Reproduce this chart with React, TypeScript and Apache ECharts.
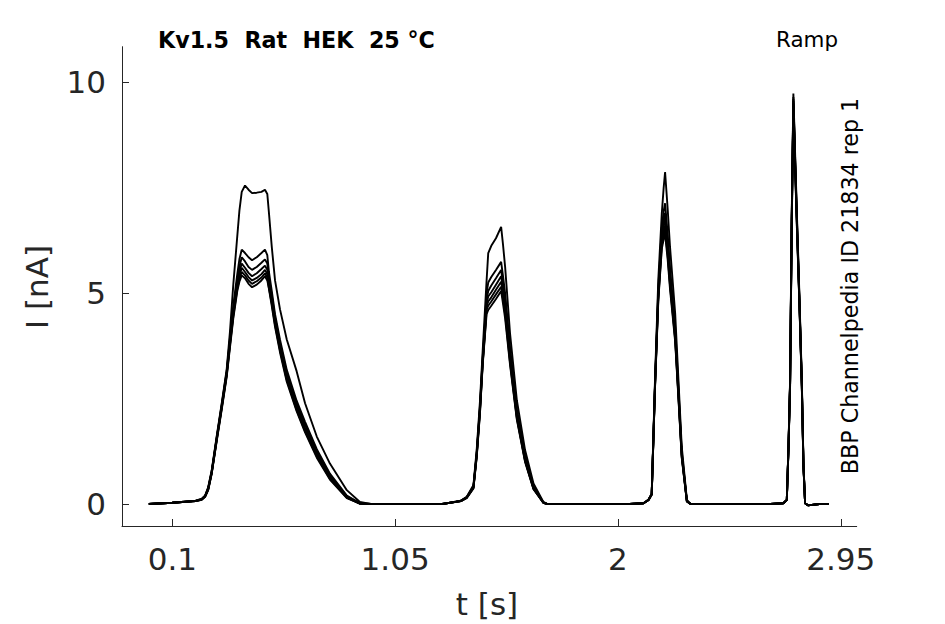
import React, { useEffect, useRef } from "react";
import * as echarts from "echarts";

// time samples (s), shared by all sweeps
const T = [
  0, 0.1, 0.2, 0.225, 0.24, 0.253, 0.268, 0.289, 0.311, 0.332, 0.346, 0.36, 0.377, 0.386, 0.396, 0.41, 0.425, 0.44, 0.46, 0.48, 0.495, 0.505, 0.512, 0.524, 0.538, 0.559, 0.588, 0.63, 0.666, 0.716, 0.772, 0.844, 0.9, 0.95,
  1.25, 1.33, 1.355, 1.384, 1.398, 1.412, 1.423, 1.433, 1.44, 1.447, 1.46, 1.48, 1.502, 1.51, 1.519, 1.54, 1.569, 1.604, 1.64, 1.682, 1.7, 1.75,
  2.05, 2.109, 2.13, 2.144, 2.158, 2.172, 2.187, 2.195, 2.201, 2.212, 2.222, 2.244, 2.258, 2.272, 2.294, 2.31, 2.36,
  2.65, 2.705, 2.72, 2.727, 2.734, 2.741, 2.748, 2.756, 2.763, 2.774, 2.784, 2.791, 2.798, 2.81, 2.86, 2.9,
];

// current (nA) of each sweep
const sweepA = [
  0, 0.03, 0.08, 0.12, 0.2, 0.4, 0.8, 1.6, 2.4, 3.2, 4.1, 5.2, 6.35, 6.95, 7.4, 7.55, 7.45, 7.37, 7.38, 7.4, 7.45, 7.35, 6.9, 6.1, 5.3, 4.62, 3.9, 3.15, 2.39, 1.6, 0.96, 0.33, 0.05, 0,
  0, 0.08, 0.17, 0.45, 1.3, 2.46, 3.6, 4.6, 5.3, 5.95, 6.12, 6.3, 6.57, 6.15, 5.62, 4.04, 2.46, 1.28, 0.49, 0.05, 0, 0,
  0, 0.02, 0.1, 0.25, 2.94, 5.31, 6.89, 7.5, 7.87, 7.0, 6.1, 4.52, 2.94, 1.36, 0.1, 0, 0,
  0, 0.02, 0.1, 1.36, 2.94, 6.89, 9.73, 8.2, 6.89, 4.9, 2.94, 0.96, 0.02, -0.03, 0, 0,
];
const sweepB = [
  0, 0.03, 0.08, 0.12, 0.2, 0.38, 0.78, 1.57, 2.37, 3.15, 3.95, 4.7, 5.45, 5.8, 6.03, 5.95, 5.85, 5.78, 5.85, 5.95, 6.03, 5.9, 5.5, 5.05, 4.5, 3.9, 3.18, 2.45, 1.95, 1.3, 0.72, 0.2, 0.02, 0,
  0, 0.08, 0.16, 0.42, 1.22, 2.35, 3.45, 4.3, 5.0, 5.25, 5.38, 5.55, 5.74, 5.4, 5.0, 3.7, 2.25, 1.15, 0.42, 0.04, 0, 0,
  0, 0.02, 0.1, 0.24, 2.85, 5.1, 6.55, 6.95, 7.13, 6.4, 5.6, 4.2, 2.75, 1.25, 0.08, 0, 0,
  0, 0.02, 0.1, 1.33, 2.9, 6.8, 9.65, 8.1, 6.8, 4.82, 2.88, 0.93, 0.02, -0.03, 0, 0,
];
const sweepC = [
  0, 0.03, 0.08, 0.11, 0.19, 0.37, 0.76, 1.55, 2.34, 3.12, 3.9, 4.62, 5.32, 5.62, 5.85, 5.75, 5.62, 5.55, 5.62, 5.72, 5.8, 5.7, 5.35, 4.95, 4.42, 3.82, 3.1, 2.38, 1.88, 1.25, 0.68, 0.18, 0.02, 0,
  0, 0.07, 0.16, 0.41, 1.2, 2.3, 3.4, 4.2, 4.85, 5.05, 5.18, 5.35, 5.55, 5.22, 4.85, 3.6, 2.18, 1.1, 0.4, 0.04, 0, 0,
  0, 0.02, 0.1, 0.24, 2.82, 5.0, 6.4, 6.75, 6.9, 6.25, 5.45, 4.1, 2.68, 1.2, 0.07, 0, 0,
  0, 0.02, 0.1, 1.32, 2.88, 6.75, 9.6, 8.05, 6.75, 4.78, 2.85, 0.92, 0.02, -0.03, 0, 0,
];
const sweepD = [
  0, 0.03, 0.07, 0.11, 0.19, 0.36, 0.75, 1.53, 2.32, 3.1, 3.85, 4.55, 5.22, 5.5, 5.7, 5.6, 5.48, 5.4, 5.47, 5.57, 5.65, 5.55, 5.25, 4.87, 4.35, 3.75, 3.03, 2.32, 1.82, 1.2, 0.65, 0.17, 0.01, 0,
  0, 0.07, 0.15, 0.4, 1.18, 2.27, 3.35, 4.15, 4.75, 4.92, 5.02, 5.2, 5.4, 5.1, 4.75, 3.5, 2.12, 1.07, 0.38, 0.03, 0, 0,
  0, 0.02, 0.1, 0.23, 2.8, 4.95, 6.3, 6.6, 6.75, 6.12, 5.35, 4.02, 2.62, 1.17, 0.07, 0, 0,
  0, 0.02, 0.1, 1.3, 2.86, 6.7, 9.55, 8.0, 6.7, 4.75, 2.83, 0.9, 0.02, -0.03, 0, 0,
];
const sweepE = [
  0, 0.03, 0.07, 0.11, 0.18, 0.35, 0.74, 1.52, 2.3, 3.08, 3.8, 4.5, 5.15, 5.4, 5.6, 5.5, 5.38, 5.3, 5.36, 5.45, 5.55, 5.45, 5.18, 4.8, 4.3, 3.7, 2.98, 2.27, 1.77, 1.16, 0.62, 0.16, 0.01, 0,
  0, 0.07, 0.15, 0.39, 1.16, 2.24, 3.32, 4.1, 4.68, 4.8, 4.9, 5.08, 5.27, 4.98, 4.62, 3.42, 2.07, 1.04, 0.37, 0.03, 0, 0,
  0, 0.02, 0.09, 0.23, 2.78, 4.9, 6.2, 6.47, 6.6, 6.0, 5.25, 3.95, 2.57, 1.14, 0.06, 0, 0,
  0, 0.02, 0.1, 1.29, 2.84, 6.65, 9.5, 7.95, 6.65, 4.72, 2.81, 0.89, 0.02, -0.03, 0, 0,
];
const sweepF = [
  0, 0.03, 0.07, 0.1, 0.18, 0.34, 0.73, 1.5, 2.28, 3.05, 3.77, 4.45, 5.1, 5.33, 5.5, 5.42, 5.3, 5.22, 5.28, 5.37, 5.47, 5.37, 5.12, 4.75, 4.25, 3.65, 2.94, 2.23, 1.73, 1.13, 0.6, 0.15, 0.01, 0,
  0, 0.07, 0.15, 0.38, 1.14, 2.2, 3.3, 4.05, 4.6, 4.7, 4.8, 4.97, 5.15, 4.86, 4.5, 3.35, 2.03, 1.02, 0.36, 0.03, 0, 0,
  0, 0.02, 0.09, 0.22, 2.76, 4.85, 6.12, 6.37, 6.5, 5.9, 5.18, 3.9, 2.53, 1.12, 0.06, 0, 0,
  0, 0.02, 0.1, 1.28, 2.82, 6.6, 9.45, 7.9, 6.6, 4.7, 2.79, 0.88, 0.02, -0.03, 0, 0,
];
const sweepG = [
  0, 0.03, 0.07, 0.1, 0.17, 0.33, 0.72, 1.48, 2.25, 3.02, 3.72, 4.4, 5.05, 5.27, 5.42, 5.35, 5.22, 5.14, 5.2, 5.3, 5.4, 5.3, 5.1, 4.7, 4.2, 3.6, 2.9, 2.2, 1.7, 1.1, 0.58, 0.14, 0.01, 0,
  0, 0.07, 0.14, 0.37, 1.12, 2.17, 3.27, 4.0, 4.5, 4.6, 4.7, 4.86, 5.05, 4.75, 4.4, 3.3, 2.0, 1.0, 0.35, 0.03, 0, 0,
  0, 0.02, 0.09, 0.22, 2.74, 4.8, 6.05, 6.28, 6.4, 5.8, 5.1, 3.85, 2.5, 1.1, 0.06, 0, 0,
  0, 0.02, 0.1, 1.27, 2.8, 6.55, 9.4, 7.85, 6.55, 4.68, 2.77, 0.87, 0.02, -0.03, 0, 0,
];

const SWEEPS = [sweepA, sweepB, sweepC, sweepD, sweepE, sweepF, sweepG];

const X_TICKS = [0.1, 1.05, 2, 2.95];
const Y_TICKS = [0, 5, 10];

const TITLE = "Kv1.5  Rat  HEK  25 °C";
const PROTOCOL = "Ramp";
const SIDE_NOTE = "BBP Channelpedia ID 21834 rep 1";
const X_NAME = "t [s]";
const Y_NAME = "I [nA]";

const FONT = '"DejaVu Sans", "Liberation Sans", sans-serif';
const AXIS_COLOR = "#262626";

export default function App() {
  const ref = useRef<HTMLDivElement>(null);

  useEffect(() => {
    if (!ref.current) return;
    const chart = echarts.init(ref.current, undefined, { renderer: "svg" });

    const series = SWEEPS.map((vals, k) => ({
      type: "line",
      name: "sweep" + (k + 1),
      data: T.map((t, i) => [t, vals[i]]),
      showSymbol: false,
      symbol: "none",
      smooth: false,
      lineStyle: { color: "#000", width: 1.9 },
      emphasis: { disabled: true },
      silent: true,
    }));

    chart.setOption({
      animation: false,
      backgroundColor: "#fff",
      grid: { left: 122, right: 88.3, top: 46.7, bottom: 98, containLabel: false },
      xAxis: {
        type: "value",
        min: -0.1145,
        max: 3.018,
        axisLine: { show: true, onZero: false, lineStyle: { color: AXIS_COLOR, width: 1 } },
        axisTick: { show: true, inside: true, length: 7, customValues: X_TICKS, lineStyle: { color: AXIS_COLOR } },
        axisLabel: {
          show: true,
          customValues: X_TICKS,
          margin: 17,
          color: AXIS_COLOR,
          fontSize: 31,
          fontFamily: FONT,
          formatter: (v: number) => String(v),
        },
        splitLine: { show: false },
      },
      yAxis: {
        type: "value",
        min: -0.52,
        max: 10.84,
        axisLine: { show: true, onZero: false, lineStyle: { color: AXIS_COLOR, width: 1 } },
        axisTick: { show: true, inside: true, length: 7, customValues: Y_TICKS, lineStyle: { color: AXIS_COLOR } },
        axisLabel: {
          show: true,
          customValues: Y_TICKS,
          margin: 16,
          color: AXIS_COLOR,
          fontSize: 31,
          fontFamily: FONT,
          formatter: (v: number) => String(v),
        },
        splitLine: { show: false },
      },
      graphic: [
        {
          type: "text",
          x: 158,
          y: 40,
          silent: true,
          style: { text: TITLE, fill: "#000", fontSize: 22.2, fontWeight: "bold", fontFamily: FONT, textAlign: "left", textVerticalAlign: "middle" },
        },
        {
          type: "text",
          x: 838,
          y: 39,
          silent: true,
          style: { text: PROTOCOL, fill: "#000", fontSize: 21.4, fontFamily: FONT, textAlign: "right", textVerticalAlign: "middle" },
        },
        {
          type: "text",
          x: 850,
          y: 286,
          rotation: Math.PI / 2,
          silent: true,
          style: { text: SIDE_NOTE, fill: "#000", fontSize: 22.2, fontFamily: FONT, textAlign: "center", textVerticalAlign: "middle" },
        },
        {
          type: "text",
          x: 487,
          y: 604,
          silent: true,
          style: { text: X_NAME, fill: AXIS_COLOR, fontSize: 31, fontFamily: FONT, textAlign: "center", textVerticalAlign: "middle" },
        },
        {
          type: "text",
          x: 37,
          y: 287,
          rotation: Math.PI / 2,
          silent: true,
          style: { text: Y_NAME, fill: AXIS_COLOR, fontSize: 31, fontFamily: FONT, textAlign: "center", textVerticalAlign: "middle" },
        },
      ],
      series,
    });

    return () => chart.dispose();
  }, []);

  return (
    <div
      ref={ref}
      style={{ position: "fixed", left: 0, top: 0, width: 945, height: 624, background: "#fff" }}
    />
  );
}
